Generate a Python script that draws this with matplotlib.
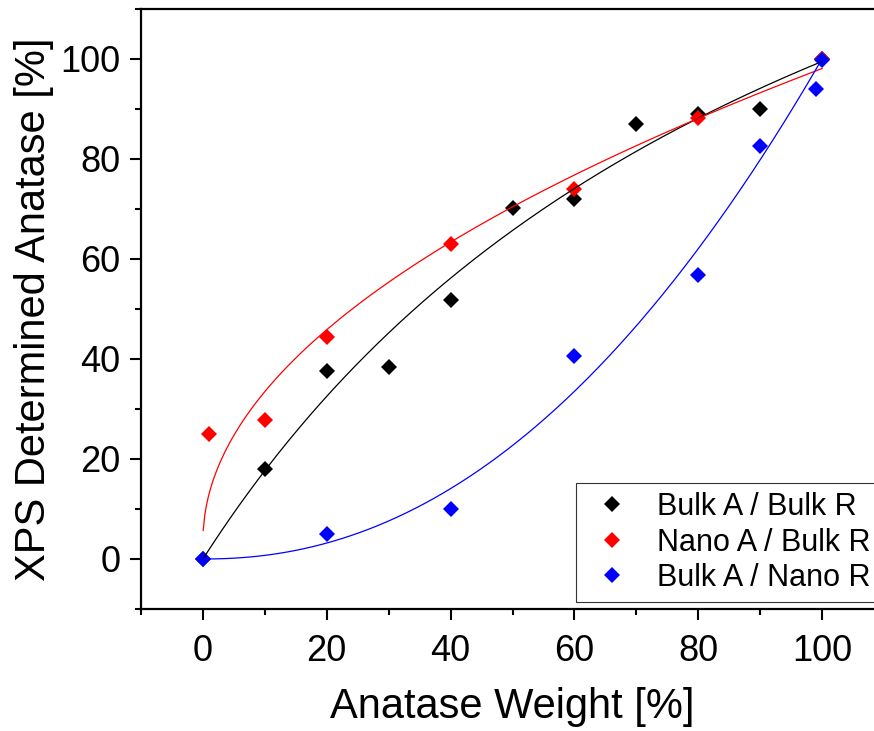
import numpy as np
import matplotlib
matplotlib.use("Agg")
import matplotlib.pyplot as plt
from matplotlib.ticker import MultipleLocator

plt.rcParams['font.family'] = ['Liberation Sans', 'DejaVu Sans']

#measured points
bulk_bulk_x = [0, 10, 20, 30, 40, 50, 60, 70, 80, 90, 100]
bulk_bulk_y = [0, 18.1, 37.7, 38.5, 51.8, 70.2, 72.1, 87.0, 89.1, 90.0, 100]

nano_bulk_x = [1, 10, 20, 40, 60, 80, 100]
nano_bulk_y = [25.1, 27.8, 44.5, 63.1, 74.1, 88.3, 100]

bulk_nano_x = [0, 20, 40, 60, 80, 90, 99, 100]
bulk_nano_y = [0, 5.1, 10.0, 40.6, 56.8, 82.6, 94.1, 99.9]

#fit parameters
black_fit = [205.0, 106.0]      # y = a*x/(b+x)
red_fit = [3.6, 9.45, 0.5]      # y = a + b*x^c
blue_fit = [0.00525, 2.14]      # y = a*x^b
red_start = 0.05

labels = ['Bulk A / Bulk R', 'Nano A / Bulk R', 'Bulk A / Nano R']

fig = plt.figure(figsize=(8.74, 7.31), dpi=100)
ax = fig.add_axes([141/874, 1-609/731, (884-141)/874, 600/731])

ms = 8.3
ax.plot(bulk_bulk_x, bulk_bulk_y, 'D', color='black', ms=ms, mew=0, label=labels[0], zorder=2)
ax.plot(nano_bulk_x, nano_bulk_y, 'D', color='red', ms=ms, mew=0, label=labels[1], zorder=2)
ax.plot(bulk_nano_x, bulk_nano_y, 'D', color='blue', ms=ms, mew=0, label=labels[2], zorder=2)

#fit curves
xs = np.linspace(0, 100, 400)
ax.plot(xs, black_fit[0]*xs/(black_fit[1]+xs), color='black', lw=0.9, zorder=3)
xr = np.linspace(red_start, 100, 400)
ax.plot(xr, red_fit[0] + red_fit[1]*xr**red_fit[2], color='red', lw=0.9, zorder=3)
ax.plot(xs, blue_fit[0]*xs**blue_fit[1], color='blue', lw=0.9, zorder=3)

ax.set_xlim(-10, 110)
ax.set_ylim(-10, 110)
ax.xaxis.set_major_locator(MultipleLocator(20))
ax.xaxis.set_minor_locator(MultipleLocator(10))
ax.yaxis.set_major_locator(MultipleLocator(20))
ax.yaxis.set_minor_locator(MultipleLocator(10))
ax.tick_params(which='major', direction='out', length=8, width=1.5, labelsize=26, pad=7)
ax.tick_params(which='minor', direction='out', length=4, width=1.5)
ax.tick_params(axis='x', pad=10)
for s in ax.spines.values():
    s.set_linewidth(1.6)

ax.set_xlabel('Anatase Weight [%]', fontsize=30, labelpad=13)
ax.set_ylabel('XPS Determined Anatase [%]', fontsize=30, labelpad=4)

leg = ax.legend(loc='upper left', bbox_to_anchor=(575.7/874, 1-483/731), bbox_transform=fig.transFigure,
                borderaxespad=0, fontsize=22, frameon=True, fancybox=False, shadow=False,
                borderpad=0.3, labelspacing=0.18, handlelength=1.8, handletextpad=0.55)
leg.get_frame().set_edgecolor('black')
leg.get_frame().set_linewidth(0.8)

fig.savefig('out.png', dpi=100)
